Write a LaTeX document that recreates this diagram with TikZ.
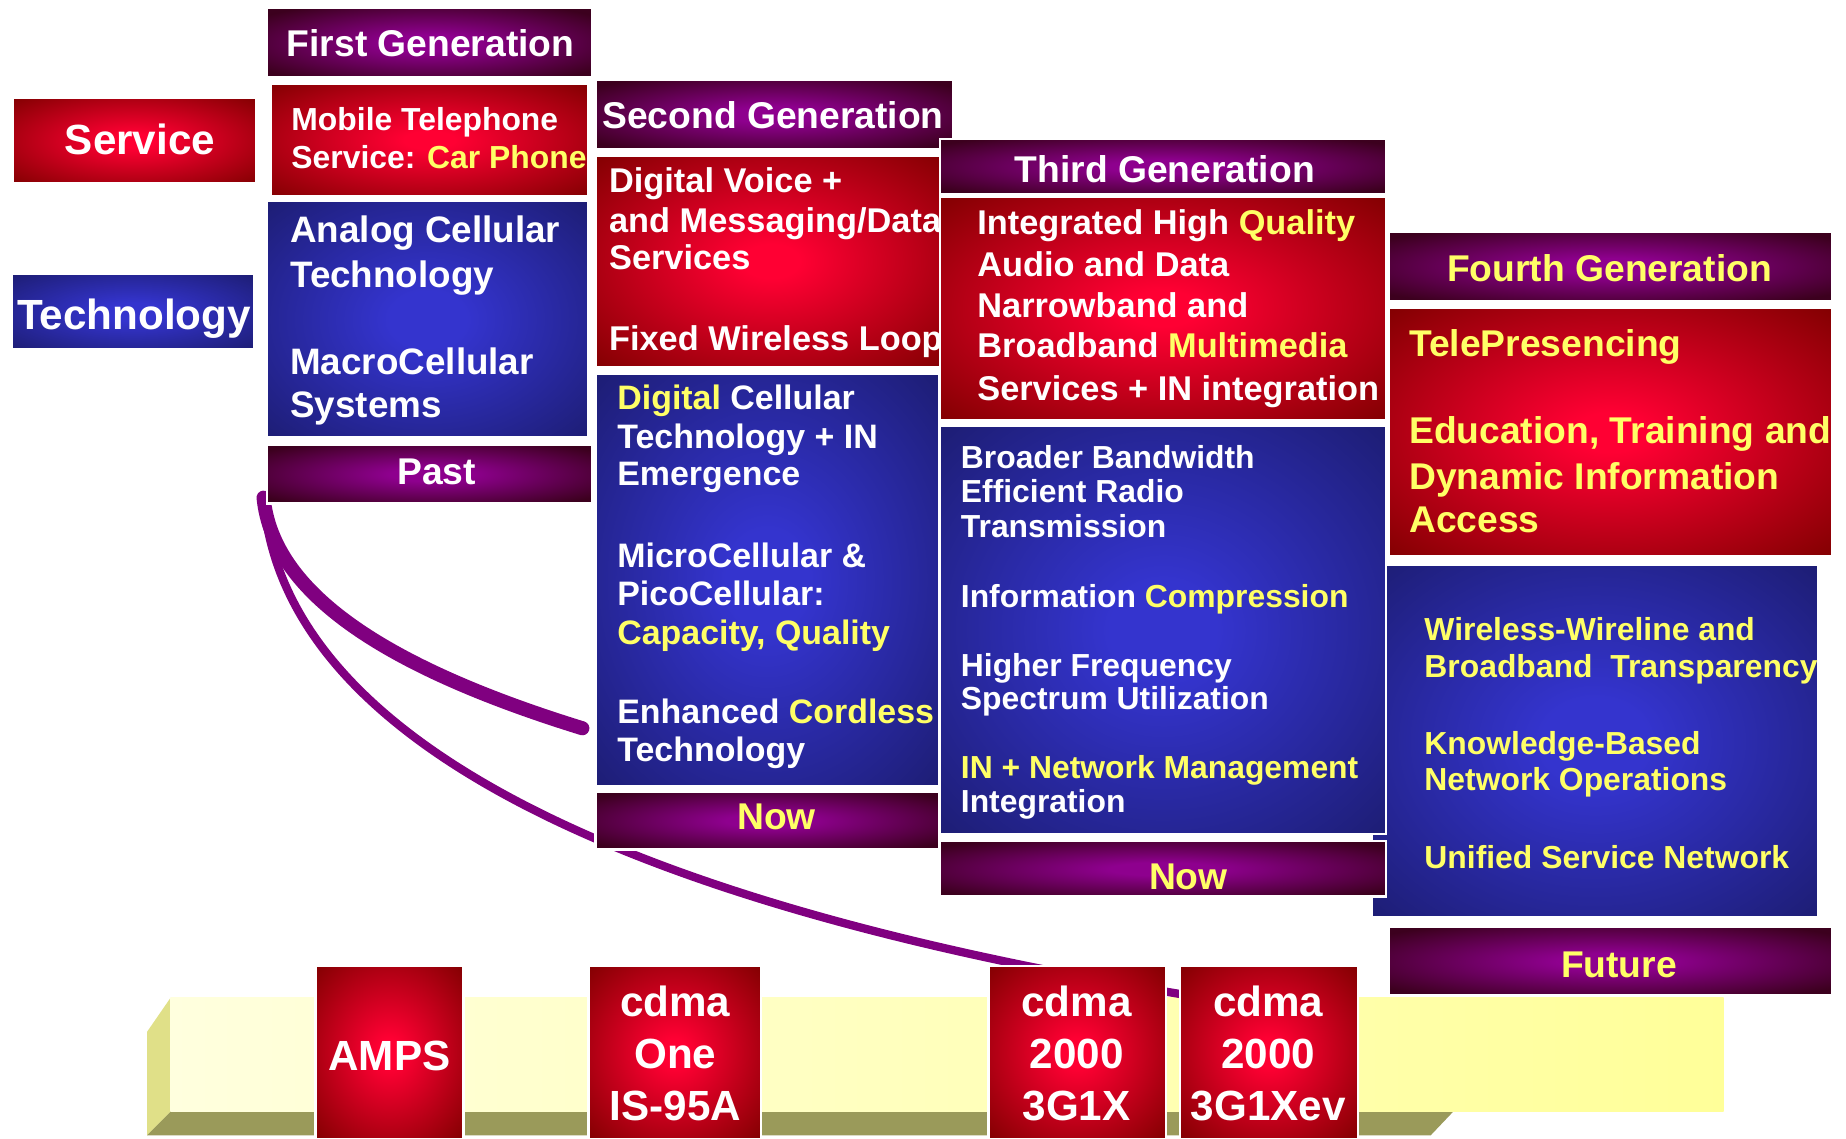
\documentclass[tikz,border=0pt]{standalone}
\usepackage{fontspec}
\setmainfont{Liberation Sans}
\definecolor{deepred}{RGB}{128,0,0}
\definecolor{glowred}{RGB}{255,0,51}
\definecolor{deepblue}{RGB}{27,27,108}
\definecolor{glowblue}{RGB}{52,52,206}
\definecolor{deepplum}{RGB}{60,0,30}
\definecolor{glowplum}{RGB}{142,0,142}
\definecolor{hiyellow}{RGB}{255,255,102}
\definecolor{arcplum}{RGB}{128,0,128}
\definecolor{barpale}{RGB}{255,255,222}
\definecolor{baryellow}{RGB}{255,255,153}
\definecolor{barside}{RGB}{224,224,136}
\definecolor{barfloor}{RGB}{154,154,90}
\pgfdeclareradialshading{redglow}{\pgfpointorigin}{color(0bp)=(glowred); color(4bp)=(glowred); color(36bp)=(deepred); color(50bp)=(deepred)}
\pgfdeclareradialshading{blueglow}{\pgfpointorigin}{color(0bp)=(glowblue); color(6bp)=(glowblue); color(38bp)=(deepblue); color(50bp)=(deepblue)}
\pgfdeclareradialshading{plumglow}{\pgfpointorigin}{color(0bp)=(glowplum); color(6bp)=(glowplum); color(32bp)=(deepplum); color(50bp)=(deepplum)}
\newcommand{\hy}[1]{\textcolor{hiyellow}{#1}}
\begin{document}
\begin{tikzpicture}[x=0.01cm,y=-0.01cm,
  redbox/.style={shade,shading=redglow,draw=white,line width=0.6pt},
  bluebox/.style={shade,shading=blueglow,draw=white,line width=0.6pt},
  plumbox/.style={shade,shading=plumglow,draw=white,line width=0.6pt},
  txt/.style={anchor=base west,inner sep=0pt,text=white,font=\bfseries\fontsize{#1}{#1}\selectfont},
  headtxt/.style={anchor=base,inner sep=0pt,text=white,font=\bfseries\fontsize{#1}{#1}\selectfont},
  swoosh/.style={draw=arcplum,line width=#1,line cap=round}]
\useasboundingbox (0,0) rectangle (1569,968);
%timeline bar
 \fill[barside] (145,848) -- (145,945) -- (125,965) -- (125,877) -- cycle; %left face
 \fill[barfloor] (145,945) -- (1235,945) -- (1216,965) -- (125,965) -- cycle; %bottom face
 \shade[left color=barpale,right color=baryellow] (145,848) rectangle (1465,945); %front face
%swooshes
 \coordinate (swstart) at (224,423);
 \coordinate (swend1) at (495,619);
 \coordinate (swend2) at (1010,846);
 \draw[swoosh=3.4pt] (swstart) .. controls (232,505) and (330,568) .. (swend1); %to second generation
 \draw[swoosh=2pt] (swstart) .. controls (238,610) and (480,760) .. (swend2); %to cdma2000
%row labels
 \path[redbox] (11,83) rectangle (218,156);
 \node[headtxt=10.2pt] (service) at (119,131) {Service};
 \path[bluebox] (10,233) rectangle (216,297);
 \node[headtxt=10.2pt] (technology) at (114,280) {Technology};
%first generation
	\path[plumbox] (227,7) rectangle (503,66); %header
	\path[redbox] (230,71) rectangle (500,167); %service
	\path[bluebox] (227,171) rectangle (500,372); %technology
	\path[plumbox] (227,378) rectangle (503,428); %footer
	\node[headtxt=9pt] (gen1) at (366,48) {First Generation};
	\node[headtxt=9pt] (past) at (371,412) {Past};
	\foreach \y/\t in {111/Mobile Telephone, 143/Service: \hy{Car Phone}}
	  \node[txt=7.7pt] (fgs-\y) at (247,\y) {\t};
	\foreach \y/\t in {206/Analog Cellular, 244/Technology, 318/MacroCellular, 355/Systems}
	  \node[txt=8.9pt] (fgt-\y) at (246,\y) {\t};
%second generation
	\path[plumbox] (506,68) rectangle (810,127); %header
	\path[redbox] (506,132) rectangle (805,312); %service
	\path[bluebox] (506,318) rectangle (798,668); %technology
	\path[plumbox] (506,673) rectangle (798,722); %footer
	\node[headtxt=9pt] (gen2) at (657,109) {Second Generation};
	\node[headtxt=9pt,text=hiyellow] (now2) at (660,705) {Now};
	\foreach \y/\t in {164/Digital Voice +, 198/{and Messaging/Data}, 229/Services, 298/Fixed Wireless Loop}
	  \node[txt=8.3pt] (sgs-\y) at (517,\y) {\t};
	\foreach \y/\t in {348/\hy{Digital} Cellular, 381/Technology + IN, 413/Emergence, 482/MicroCellular \&,
	  515/PicoCellular:, 548/{\hy{Capacity, Quality}}, 615/Enhanced \hy{Cordless}, 647/Technology}
	  \node[txt=8.2pt] (sgt-\y) at (524,\y) {\t};
%fourth generation
	\path[plumbox] (1180,197) rectangle (1557,256); %header
	\path[redbox] (1180,262) rectangle (1557,473); %service
	\path[bluebox] (1166,480) rectangle (1545,780); %technology
	\path[plumbox] (1180,788) rectangle (1557,846); %footer
	\node[headtxt=9pt,text=hiyellow] (gen4) at (1368,239) {Fourth Generation};
	\node[headtxt=9pt,text=hiyellow] (future) at (1376,831) {Future};
	\foreach \y/\t in {303/TelePresencing, 377/{Education, Training and}, 416/Dynamic Information, 453/Access}
	  \node[txt=9pt,text=hiyellow] (fos-\y) at (1197,\y) {\t};
	\foreach \y/\t in {544/Wireless-Wireline and, 576/Broadband\ \ Transparency, 641/Knowledge-Based,
	  672/Network Operations, 738/Unified Service Network}
	  \node[txt=7.7pt,text=hiyellow] (fot-\y) at (1210,\y) {\t};
%third generation
	\path[plumbox] (799,118) rectangle (1178,165); %header
	\path[redbox] (799,167) rectangle (1178,357); %service
	\path[bluebox] (799,362) rectangle (1178,709); %technology
	\path[plumbox] (799,715) rectangle (1178,762); %footer
	\node[headtxt=9pt] (gen3) at (990,155) {Third Generation};
	\node[headtxt=9pt,text=hiyellow] (now3) at (1010,756) {Now};
	\foreach \y/\t in {199/Integrated High \hy{Quality}, 235/Audio and Data, 270/Narrowband and,
	  304/Broadband \hy{Multimedia}, 340/Services + IN integration}
	  \node[txt=8.3pt] (tgs-\y) at (830,\y) {\t};
	\foreach \y/\t in {398/Broader Bandwidth, 427/Efficient Radio, 457/Transmission, 516/Information \hy{Compression},
	  575/Higher Frequency, 603/Spectrum Utilization, 662/\hy{IN + Network Management}, 691/Integration}
	  \node[txt=7.7pt] (tgt-\y) at (816,\y) {\t};
%standards on the bar
	\path[redbox] (268,821) rectangle (394,968); %AMPS
	\path[redbox] (500,821) rectangle (647,968); %cdmaOne
	\path[redbox] (840,821) rectangle (991,968); %3G1X
	\path[redbox] (1003,821) rectangle (1154,968); %3G1Xev
	\node[headtxt=10.2pt] (amps) at (331,910) {AMPS};
	\foreach \x/\n/\v/\w in {574/one/One/IS-95A, 915/onex/2000/3G1X, 1078/ev/2000/3G1Xev}{
	  \node[headtxt=10.2pt] (\n-a) at (\x,864) {cdma};
	  \node[headtxt=10.2pt] (\n-b) at (\x,908) {\v};
	  \node[headtxt=10.2pt] (\n-c) at (\x,952) {\w};
	}
\end{tikzpicture}
\end{document}
